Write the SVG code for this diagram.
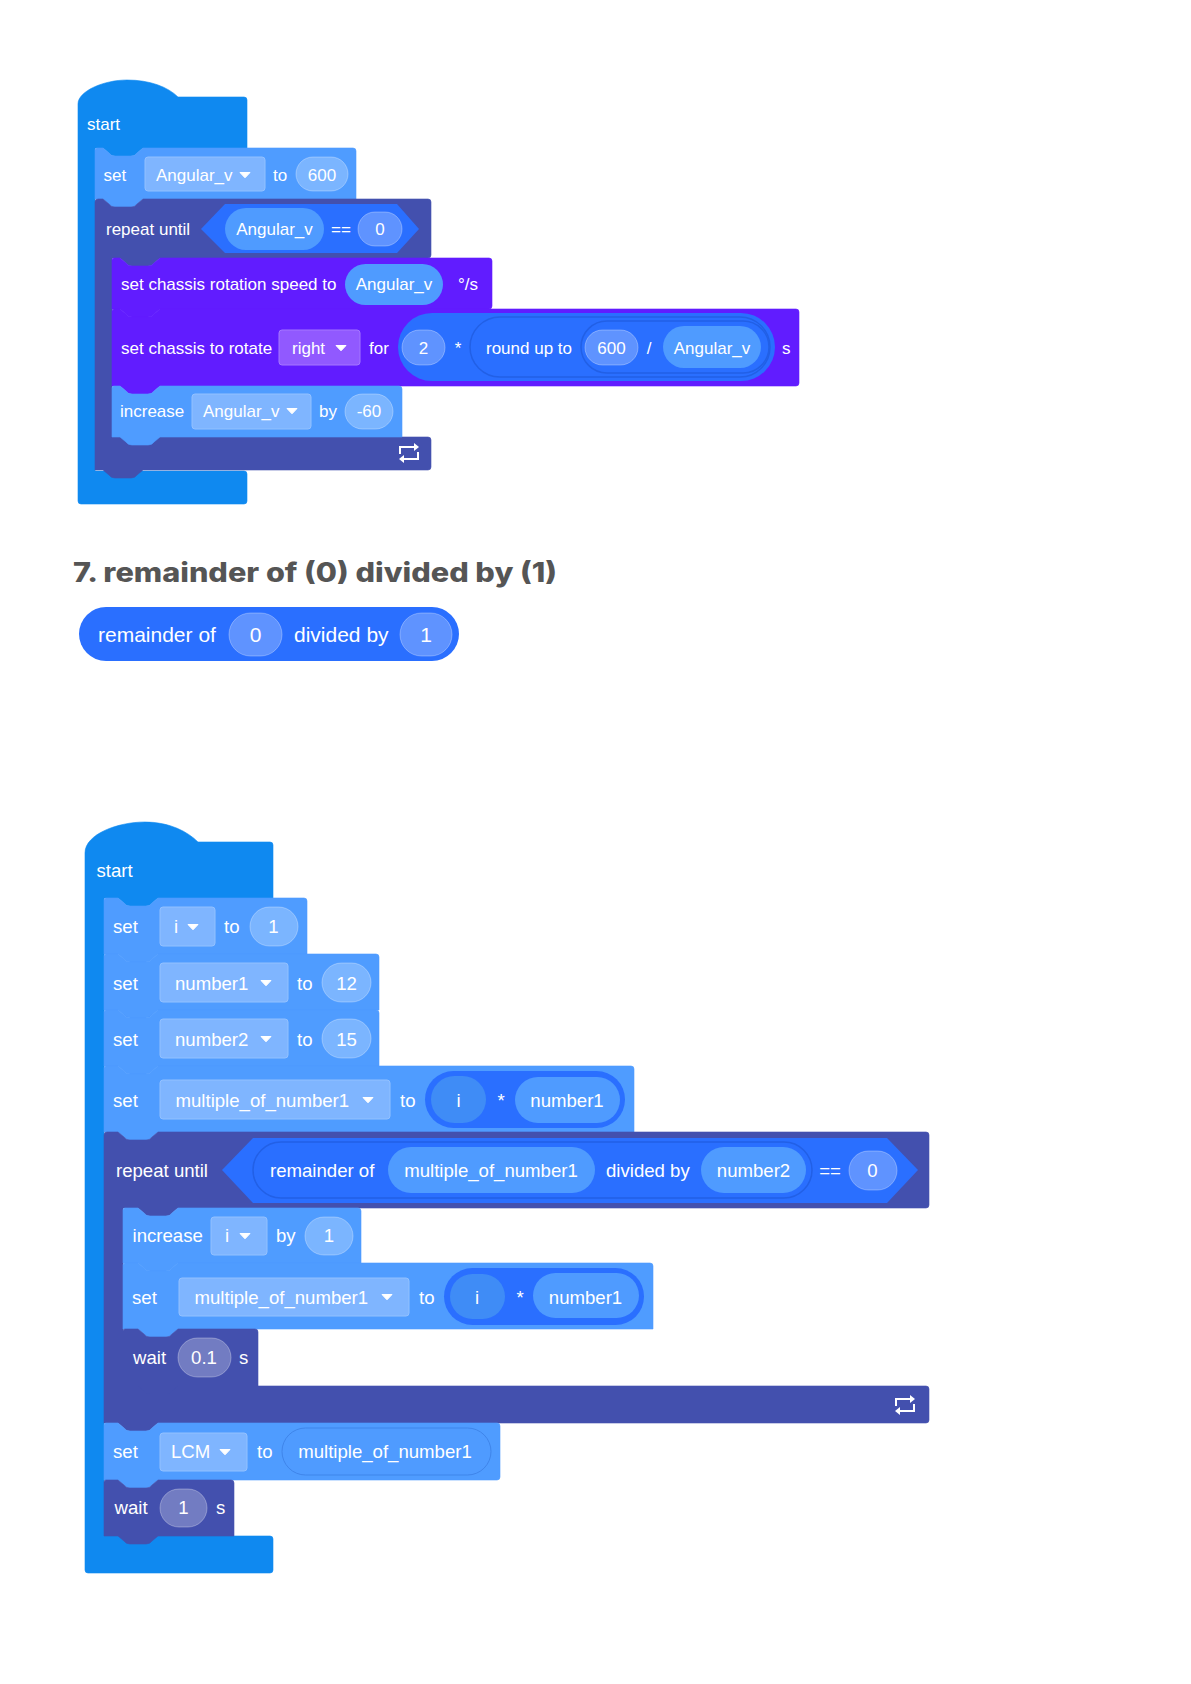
<svg xmlns="http://www.w3.org/2000/svg" width="1191" height="1684" viewBox="0 0 1191 1684">
<style>
text{font-family:"Liberation Sans",Arial,sans-serif;fill:#fff}
.a text{font-size:17px}
.b text{font-size:18.6px}
.c{text-anchor:middle}
.h{font-family:Inter,"Liberation Sans",sans-serif;font-weight:800;font-size:26.500px;fill:#555}
.st{fill:#0f89f0;stroke:#0f89f0;stroke-width:.6}
.set{fill:#4f9cff;stroke:#4f9cff;stroke-width:.6}
.rp{fill:#4350ae;stroke:#4350ae;stroke-width:.6}
.pu{fill:#611cff;stroke:#611cff;stroke-width:.6}
.bo{fill:#2a6fff}.bd{fill:#2a6fff;stroke:#2260e6;stroke-width:1.5}
.vr{fill:#4f9bff}.vd{fill:#3f8cf6}
.dd{fill:#7fb5ff;stroke:#93c1ff;stroke-width:1}
.ddp{fill:#9159ff;stroke:#a577ff;stroke-width:1}
.nm{fill:#fff;fill-opacity:.25;stroke:#fff;stroke-opacity:.3;stroke-width:1}
.ic{fill:none;stroke:#fff;stroke-width:2}
</style>
<defs>
<path id="arr" d="M-5,-2.5H5L0,2.8Z" fill="#fff" stroke="#fff" stroke-width="1" stroke-linejoin="round"/>
<g id="loop"><path class="ic" d="M-9,1V-6H6M9,-1V6H-6"/><path d="M5,-10L10,-6L5,-2ZM-5,2L-10,6L-5,10Z" fill="#fff"/></g>
</defs>
<rect width="1191" height="1684" fill="#fff"/>

<g id="connectors"></g>

<g class="a">
<g id="start-1">
<path class="st" d="M78,104C78,91 104,80 127,80C150,80 168,87 178,97H244Q247,97 247,100V148H143L137,153Q135,156 131,156H115Q111,156 109,153L103,148H95V471H244Q247,471 247,474V501Q247,504 244,504H81Q78,504 78,501Z"/>
<text x="87" y="130">start</text>
</g>
<g id="set-angular">
<path class="set" d="M97,148H103l6,5q2,3 6,3h16q4,0 6,-3l6,-5H353Q356,148 356,151V199H143l-6,5q-2,3 -6,3h-16q-4,0 -6,-3l-6,-5H95V150Q95,148 97,148Z"/>
<text x="103.500" y="181">set</text>
<rect class="dd" x="145" y="157" width="120" height="34" rx="3"/>
<text x="156" y="181">Angular_v</text><use href="#arr" x="245" y="175"/>
<text x="273" y="181">to</text>
<rect class="nm" x="296" y="157" width="52" height="34" rx="17"/>
<text class="c" x="322" y="181">600</text>
</g>
<g id="repeat-1">
<path class="rp" d="M98,199H103l6,5q2,3 6,3h16q4,0 6,-3l6,-5H428Q431,199 431,202V255Q431,258 428,258H160l-6,5q-2,3 -6,3h-16q-4,0 -6,-3l-6,-5H112V437H428Q431,437 431,440V467Q431,470 428,470H143l-6,5q-2,3 -6,3h-16q-4,0 -6,-3l-6,-5H95V202Q95,199 98,199Z"/>
<text x="106" y="235">repeat until</text>
<path class="bo" d="M201,229L225,204H397L419,229L397,253H225Z"/>
<rect class="vr" x="225" y="208" width="99" height="42" rx="21"/>
<text class="c" x="274.500" y="235">Angular_v</text>
<text class="c" x="341" y="235">==</text>
<rect class="nm" x="358" y="212" width="44" height="34" rx="17"/>
<text class="c" x="380" y="235">0</text>
<use href="#loop" x="409" y="453"/>
</g>
<g id="set-speed">
<path class="pu" d="M114,258H120l6,5q2,3 6,3h16q4,0 6,-3l6,-5H489Q492,258 492,261V306Q492,309 489,309H160l-6,5q-2,3 -6,3h-16q-4,0 -6,-3l-6,-5H112V260Q112,258 114,258Z"/>
<text x="121" y="290">set chassis rotation speed to</text>
<rect class="vr" x="345" y="264" width="98" height="41" rx="20.500"/>
<text class="c" x="394" y="290">Angular_v</text>
<text x="458" y="290">°/s</text>
</g>
<g id="set-rotate">
<path class="pu" d="M114,309H120l6,5q2,3 6,3h16q4,0 6,-3l6,-5H796Q799,309 799,312V383Q799,386 796,386H160l-6,5q-2,3 -6,3h-16q-4,0 -6,-3l-6,-5H112V311Q112,309 114,309Z"/>
<text x="121" y="354">set chassis to rotate</text>
<rect class="ddp" x="279" y="330" width="81" height="35" rx="3"/>
<text x="292" y="354">right</text><use href="#arr" x="341" y="348"/>
<text x="369" y="354">for</text>
<rect class="bo" x="398" y="313" width="377" height="68" rx="34"/>
<rect class="nm" x="402" y="330" width="43" height="35" rx="17.500"/>
<text class="c" x="423.500" y="354">2</text>
<text class="c" x="458" y="354">*</text>
<rect class="bd" x="470" y="317" width="300" height="60" rx="30"/>
<text x="486" y="354">round up to</text>
<rect class="bd" x="581" y="321" width="188" height="52" rx="26"/>
<rect class="nm" x="585" y="330" width="53" height="35" rx="17.500"/>
<text class="c" x="611.500" y="354">600</text>
<text class="c" x="649" y="354">/</text>
<rect class="vr" x="663" y="326" width="98" height="42" rx="21"/>
<text class="c" x="712" y="354">Angular_v</text>
<text x="782" y="354">s</text>
</g>
<g id="increase-1">
<path class="set" d="M114,386H120l6,5q2,3 6,3h16q4,0 6,-3l6,-5H399Q402,386 402,389V437H160l-6,5q-2,3 -6,3h-16q-4,0 -6,-3l-6,-5H112V388Q112,386 114,386Z"/>
<text x="120" y="417">increase</text>
<rect class="dd" x="192" y="394" width="119" height="35" rx="3"/>
<text x="203" y="417">Angular_v</text><use href="#arr" x="292" y="411"/>
<text x="319" y="417">by</text>
<rect class="nm" x="345" y="394" width="48" height="35" rx="17.500"/>
<text class="c" x="369" y="417">-60</text>
</g>
</g>

<text class="h" x="73" y="582" textLength="484" lengthAdjust="spacingAndGlyphs">7. remainder of (0) divided by (1)</text>
<g id="remainder-block">
<rect class="bo" x="79" y="607" width="380" height="54" rx="27"/>
<rect class="nm" x="229" y="613" width="53" height="43" rx="21.500"/>
<rect class="nm" x="400" y="613" width="52" height="43" rx="21.500"/>
<g style="font-size:21px">
<text x="98" y="642" style="font-size:21px">remainder of</text>
<text class="c" x="255.500" y="642" style="font-size:21px">0</text>
<text x="294" y="642" style="font-size:21px">divided by</text>
<text class="c" x="426" y="642" style="font-size:21px">1</text>
</g>
</g>

<g class="b">
<g id="start-2">
<path class="st" d="M85,853C85,834 118,822 145,822C170,822 188,832 198,842H270Q273,842 273,845V898H158L152,903Q150,906 146,906H130Q126,906 124,903L118,898H104V1536H270Q273,1536 273,1539V1570Q273,1573 270,1573H88Q85,1573 85,1570Z"/>
<text x="96.500" y="877">start</text>
</g>
<g id="set-i">
<path class="set" d="M106,898H118l6,5q2,3 6,3h16q4,0 6,-3l6,-5H304Q307,898 307,901V954H158l-6,5q-2,3 -6,3h-16q-4,0 -6,-3l-6,-5H104V900Q104,898 106,898Z"/>
<text x="113" y="933">set</text>
<rect class="dd" x="160" y="907" width="55" height="39" rx="3"/>
<text x="174" y="933">i</text><use href="#arr" x="193" y="927"/>
<text x="224" y="933">to</text>
<rect class="nm" x="250" y="907" width="48" height="39" rx="19.500"/>
<text class="c" x="273.500" y="933">1</text>
</g>
<g id="set-number1">
<path class="set" d="M106,954H118l6,5q2,3 6,3h16q4,0 6,-3l6,-5H376Q379,954 379,957V1010H158l-6,5q-2,3 -6,3h-16q-4,0 -6,-3l-6,-5H104V956Q104,954 106,954Z"/>
<text x="113" y="990">set</text>
<rect class="dd" x="160" y="963" width="128" height="39" rx="3"/>
<text x="175" y="990">number1</text><use href="#arr" x="266" y="983"/>
<text x="297" y="990">to</text>
<rect class="nm" x="322" y="963" width="49" height="39" rx="19.500"/>
<text class="c" x="346.500" y="990">12</text>
</g>
<g id="set-number2">
<path class="set" d="M106,1010H118l6,5q2,3 6,3h16q4,0 6,-3l6,-5H376Q379,1010 379,1013V1066H158l-6,5q-2,3 -6,3h-16q-4,0 -6,-3l-6,-5H104V1012Q104,1010 106,1010Z"/>
<text x="113" y="1046">set</text>
<rect class="dd" x="160" y="1019" width="128" height="39" rx="3"/>
<text x="175" y="1046">number2</text><use href="#arr" x="266" y="1039"/>
<text x="297" y="1046">to</text>
<rect class="nm" x="322" y="1019" width="49" height="39" rx="19.500"/>
<text class="c" x="346.500" y="1046">15</text>
</g>
<g id="set-multiple-1">
<path class="set" d="M106,1066H118l6,5q2,3 6,3h16q4,0 6,-3l6,-5H631Q634,1066 634,1069V1132H158l-6,5q-2,3 -6,3h-16q-4,0 -6,-3l-6,-5H104V1068Q104,1066 106,1066Z"/>
<text x="113" y="1107">set</text>
<rect class="dd" x="160" y="1080" width="230" height="39" rx="3"/>
<text x="175.500" y="1107">multiple_of_number1</text><use href="#arr" x="368" y="1100"/>
<text x="400" y="1107">to</text>
<rect class="bo" x="425" y="1071" width="200" height="57" rx="28.500"/>
<rect class="vd" x="431" y="1076" width="55" height="47" rx="23.500"/>
<text class="c" x="458.500" y="1107">i</text>
<text class="c" x="501" y="1107">*</text>
<rect class="vr" x="515" y="1077" width="105" height="46" rx="23"/>
<text class="c" x="567" y="1107">number1</text>
</g>
<g id="repeat-2">
<path class="rp" d="M107,1132H118l6,5q2,3 6,3h16q4,0 6,-3l6,-5H926Q929,1132 929,1135V1205Q929,1208 926,1208H178l-6,5q-2,3 -6,3h-16q-4,0 -6,-3l-6,-5H123V1386H926Q929,1386 929,1389V1420Q929,1423 926,1423H158l-6,5q-2,3 -6,3h-16q-4,0 -6,-3l-6,-5H104V1135Q104,1132 107,1132Z"/>
<text x="116" y="1177">repeat until</text>
<path class="bo" d="M222,1170L253,1138H887L918,1170L887,1203H253Z"/>
<rect class="bd" x="253" y="1142" width="559" height="56" rx="28"/>
<text x="270" y="1177">remainder of</text>
<rect class="vr" x="388" y="1147" width="207" height="46" rx="23"/>
<text class="c" x="491" y="1177">multiple_of_number1</text>
<text x="606" y="1177">divided by</text>
<rect class="vr" x="701" y="1147" width="105" height="46" rx="23"/>
<text class="c" x="753.500" y="1177">number2</text>
<text class="c" x="830" y="1177">==</text>
<rect class="nm" x="849" y="1151" width="48" height="39" rx="19.500"/>
<text class="c" x="872.500" y="1177">0</text>
<use href="#loop" x="905" y="1405"/>
</g>
<g id="increase-2">
<path class="set" d="M125,1208H138l6,5q2,3 6,3h16q4,0 6,-3l6,-5H358Q361,1208 361,1211V1263H178l-6,5q-2,3 -6,3h-16q-4,0 -6,-3l-6,-5H123V1210Q123,1208 125,1208Z"/>
<text x="132.500" y="1242">increase</text>
<rect class="dd" x="211" y="1217" width="56" height="38" rx="3"/>
<text x="225" y="1242">i</text><use href="#arr" x="245" y="1236"/>
<text x="276" y="1242">by</text>
<rect class="nm" x="305" y="1217" width="48" height="38" rx="19"/>
<text class="c" x="329" y="1242">1</text>
</g>
<g id="set-multiple-2">
<path class="set" d="M125,1263H138l6,5q2,3 6,3h16q4,0 6,-3l6,-5H650Q653,1263 653,1266V1329H178l-6,5q-2,3 -6,3h-16q-4,0 -6,-3l-6,-5H123V1265Q123,1263 125,1263Z"/>
<text x="132" y="1304">set</text>
<rect class="dd" x="179" y="1278" width="230" height="38" rx="3"/>
<text x="194.500" y="1304">multiple_of_number1</text><use href="#arr" x="387" y="1297"/>
<text x="419" y="1304">to</text>
<rect class="bo" x="444" y="1268" width="200" height="57" rx="28.500"/>
<rect class="vd" x="450" y="1274" width="55" height="45" rx="22.500"/>
<text class="c" x="477" y="1304">i</text>
<text class="c" x="520" y="1304">*</text>
<rect class="vr" x="533" y="1273" width="106" height="45" rx="22.500"/>
<text class="c" x="585.500" y="1304">number1</text>
</g>
<g id="wait-01">
<path class="rp" d="M125,1329H138l6,5q2,3 6,3h16q4,0 6,-3l6,-5H255Q258,1329 258,1332V1386H178l-6,5q-2,3 -6,3h-16q-4,0 -6,-3l-6,-5H123V1331Q123,1329 125,1329Z"/>
<text x="133" y="1364">wait</text>
<rect class="nm" x="178" y="1338" width="53" height="39" rx="19.500"/>
<text class="c" x="204" y="1364">0.1</text>
<text x="239" y="1364">s</text>
</g>
<g id="set-lcm">
<path class="set" d="M106,1423H118l6,5q2,3 6,3h16q4,0 6,-3l6,-5H497Q500,1423 500,1426V1477Q500,1480 497,1480H158l-6,5q-2,3 -6,3h-16q-4,0 -6,-3l-6,-5H104V1425Q104,1423 106,1423Z"/>
<text x="113" y="1458">set</text>
<rect class="dd" x="160" y="1433" width="87" height="38" rx="3"/>
<text x="171" y="1458">LCM</text><use href="#arr" x="225" y="1452"/>
<text x="257" y="1458">to</text>
<rect x="282" y="1428" width="209" height="47" rx="23.500" fill="#4f9bff" stroke="#3f85ea" stroke-width="1"/>
<text class="c" x="385" y="1458">multiple_of_number1</text>
</g>
<g id="wait-1">
<path class="rp" d="M106,1480H118l6,5q2,3 6,3h16q4,0 6,-3l6,-5H231Q234,1480 234,1483V1536H158l-6,5q-2,3 -6,3h-16q-4,0 -6,-3l-6,-5H104V1482Q104,1480 106,1480Z"/>
<text x="114.500" y="1514">wait</text>
<rect class="nm" x="160" y="1489" width="47" height="38" rx="19"/>
<text class="c" x="183.500" y="1514">1</text>
<text x="216" y="1514">s</text>
</g>
</g>
</svg>
